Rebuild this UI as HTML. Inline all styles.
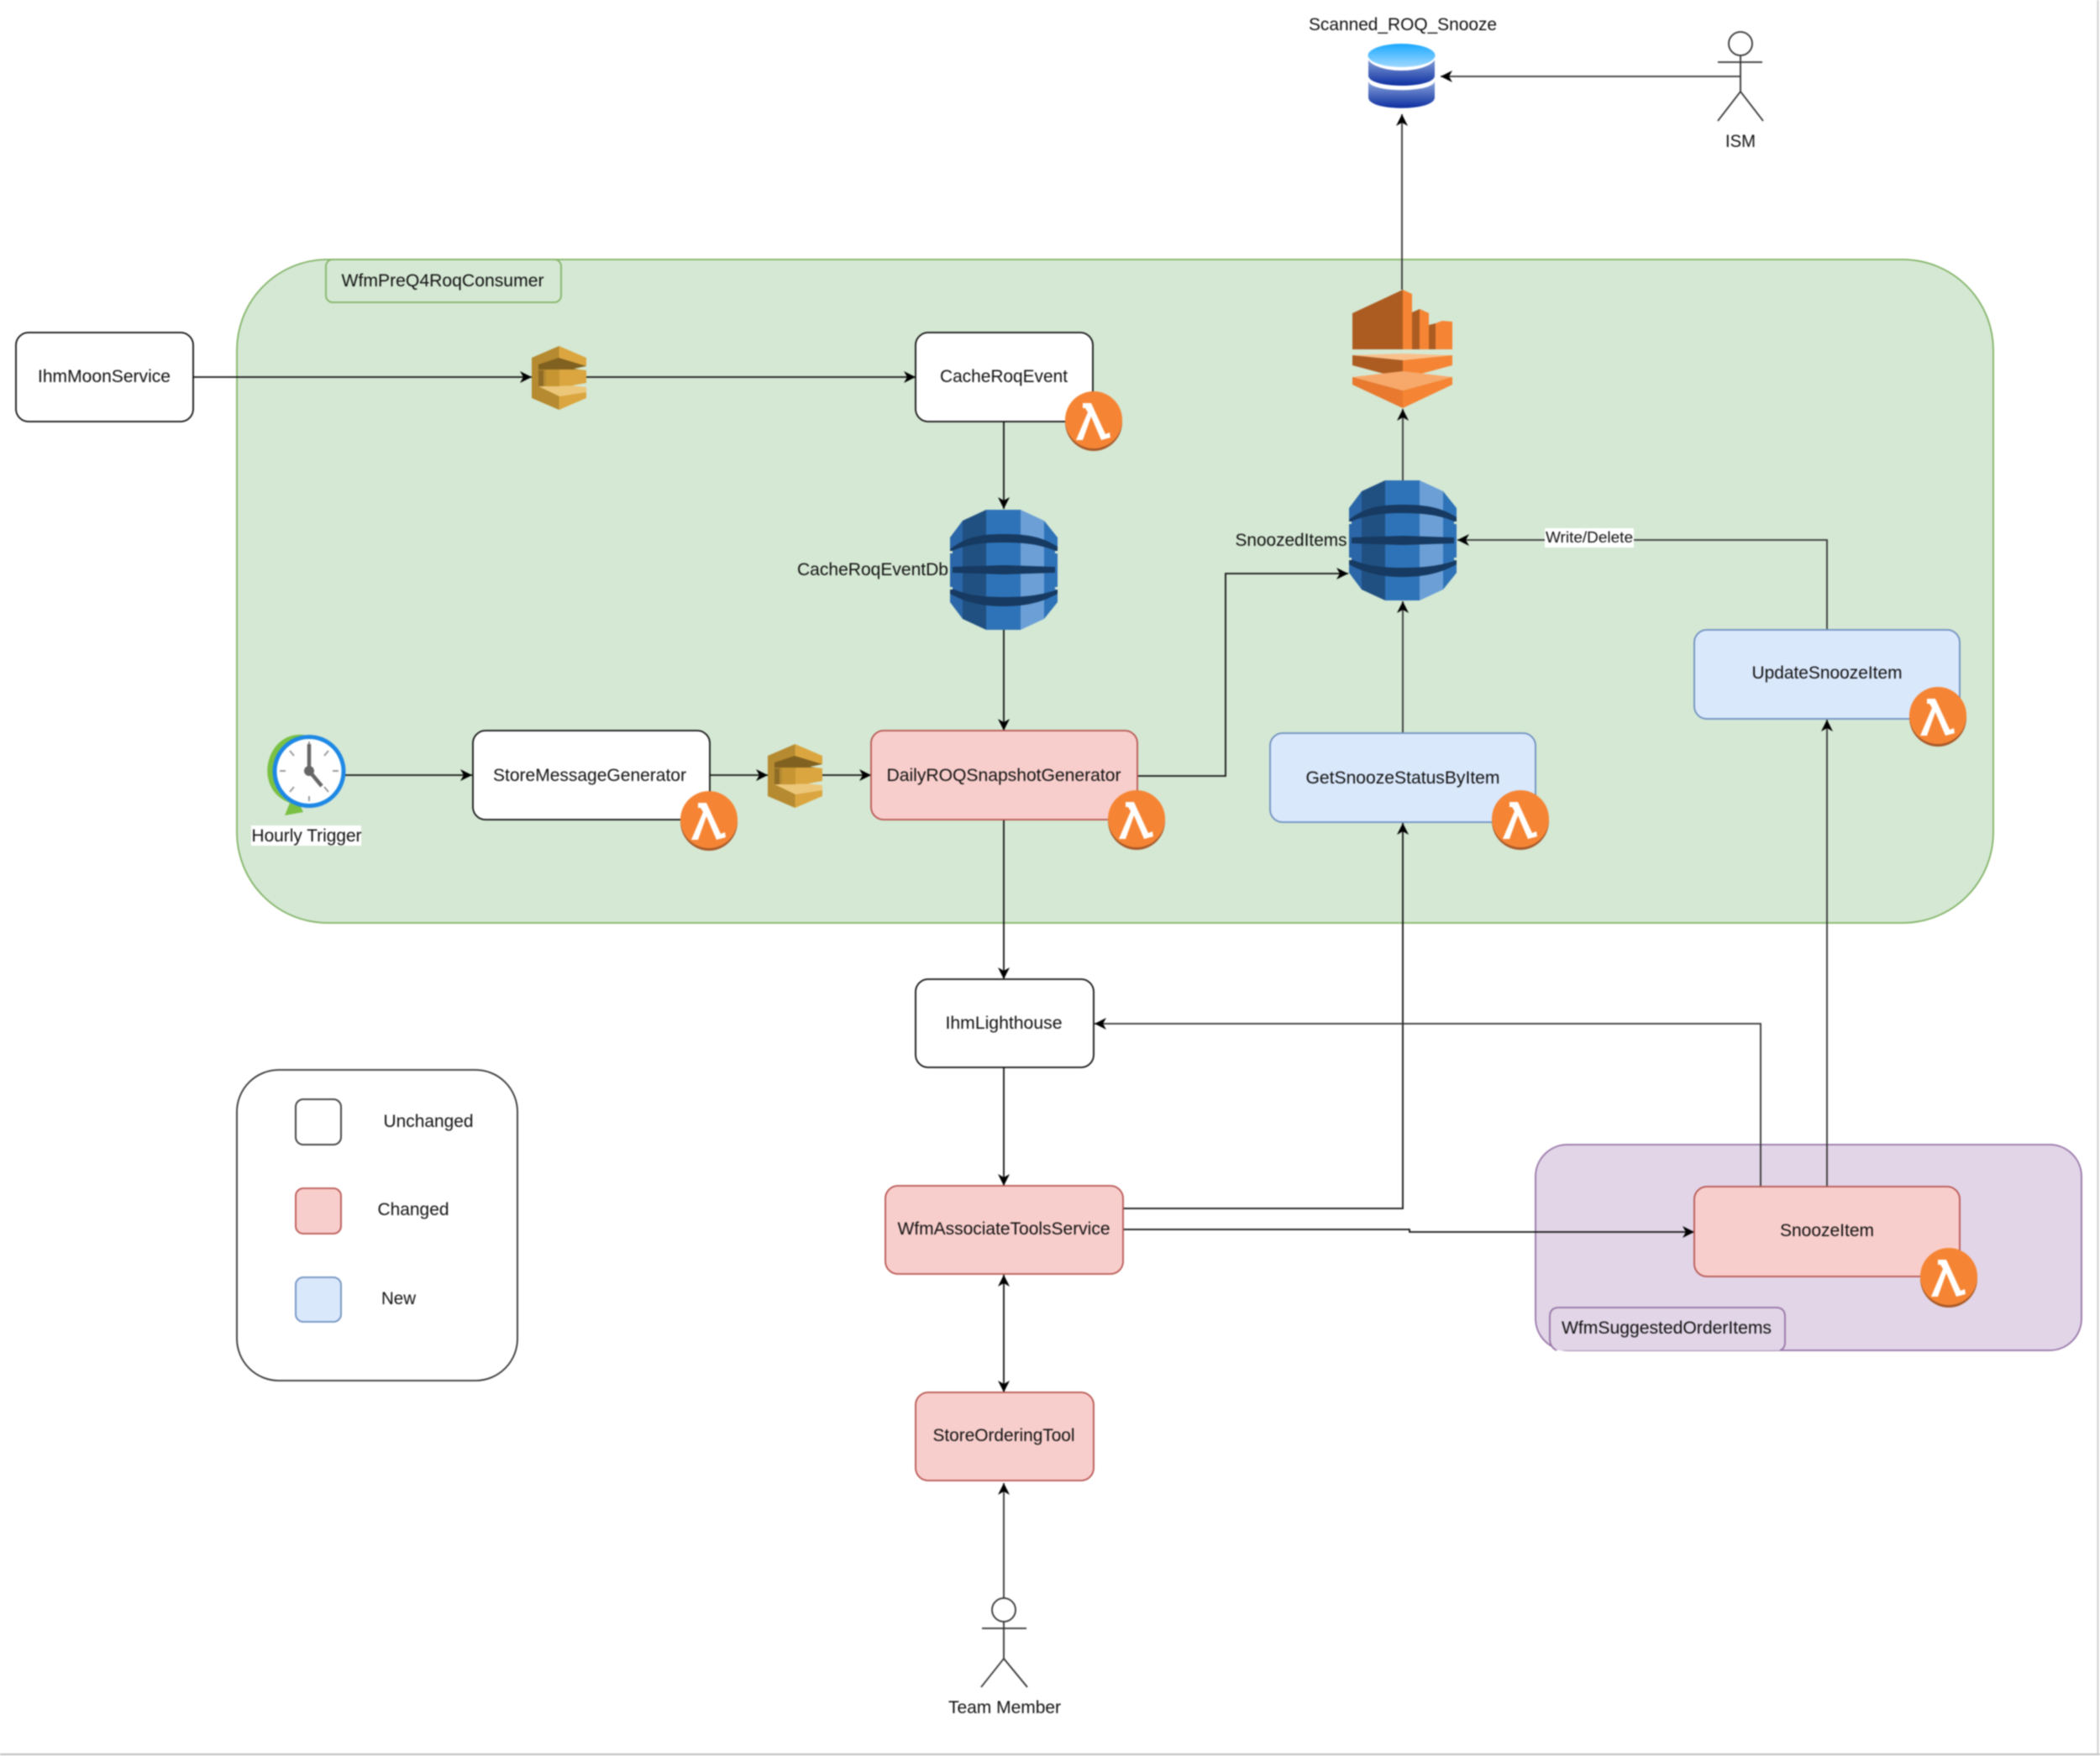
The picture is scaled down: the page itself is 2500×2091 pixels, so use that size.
<!DOCTYPE html>
<html>
<head>
<meta charset="utf-8">
<style>
html,body{margin:0;padding:0;background:#fff;width:2500px;height:2091px;overflow:hidden}
svg{display:block;filter:blur(0.7px)}
text{font-family:"Liberation Sans",Arial,sans-serif;font-size:21px;fill:#111;text-anchor:middle}
.l{fill:none;stroke:#111;stroke-width:1.800}
.a{fill:none;stroke:#333;stroke-width:1.800}
.w{fill:#fff;stroke:#111;stroke-width:1.800}
.r{fill:#f8cecc;stroke:#b85450;stroke-width:1.800}
.b{fill:#dae8fc;stroke:#6c8ebf;stroke-width:1.800}
</style>
</head>
<body>
<svg xmlns="http://www.w3.org/2000/svg" width="2500" height="2091" viewBox="0 0 2500 2091">
<defs>
  <marker id="ah" markerUnits="userSpaceOnUse" markerWidth="16" markerHeight="16" refX="14" refY="7" orient="auto-start-reverse">
    <path d="M14,7 L0,0 L4,7 L0,14 Z" fill="#000"/>
  </marker>
  <g id="lam">
    <ellipse cx="0" cy="1.500" rx="34" ry="34.500" fill="#a85a2a"/>
    <ellipse cx="0" cy="-1" rx="34" ry="34" fill="#f58534"/>
    <path d="M-13,-21 L-3,-21 L14,16 L19,14 L20,20 L9,23 L-3,-5 L-13,23 L-21,23 L-7,-10 L-10,-15 L-13,-15 Z" fill="#fff"/>
  </g>
  <g id="dyn">
    <polygon points="43,0 15,13 15,130 43,143" fill="#205081"/>
    <polygon points="15,13 0,33 0,110 15,130" fill="#2a66a8"/>
    <rect x="43" y="0" width="41" height="143" fill="#2e73b8"/>
    <polygon points="84,0 112,13 112,130 84,143" fill="#6b9fd6"/>
    <polygon points="112,13 128,33 128,110 112,130" fill="#2e73b8"/>
    <path d="M0,47 C20,31 40,29 64,29 C88,29 108,31 128,44 L128,50 C108,41 88,39 64,39 C40,39 20,41 0,50 Z" fill="#163a62"/>
    <polygon points="3,68 64,66 125,68 125,75 64,77 3,75" fill="#163a62"/>
    <path d="M0,93 C20,102 40,104 64,104 C88,104 108,102 128,95 L128,100 C108,111 88,115 64,115 C40,115 20,111 0,100 Z" fill="#163a62"/>
    <rect x="0" y="49" width="3" height="3" fill="#d5e8d4"/>
    <rect x="125" y="49" width="3" height="3" fill="#d5e8d4"/>
    <rect x="0" y="92" width="3" height="3" fill="#d5e8d4"/>
    <rect x="125" y="92" width="3" height="3" fill="#d5e8d4"/>
  </g>
  <g id="sqs">
    <polygon points="32.500,0 0,14 0,62 32.500,76" fill="#b58a30"/>
    <polygon points="32.500,0 65,14 65,62 32.500,76" fill="#dba63f"/>
    <polygon points="8,22 32,14 65,24 65,28 8,28" fill="#80611f"/>
    <polygon points="8,48 65,47 65,55 33,60" fill="#ecc77a"/>
    <rect x="8" y="29" width="6" height="19" fill="#8f6c25"/>
    <rect x="17" y="28" width="16" height="20" fill="#c79632"/>
    <polygon points="50,27 65,24 65,29" fill="#d5e8d4"/>
    <polygon points="48,47 65,44 65,49" fill="#d5e8d4"/>
  </g>
  <linearGradient id="dbb" x1="0" y1="0" x2="0" y2="1"><stop offset="0" stop-color="#8fa9dc"/><stop offset="1" stop-color="#0c2ea0"/></linearGradient>
  <linearGradient id="dbt" x1="0" y1="0" x2="0" y2="1"><stop offset="0" stop-color="#1aa8ff"/><stop offset="1" stop-color="#9fd8ff"/></linearGradient>
</defs>

<rect width="2500" height="2091" fill="#fff"/>
<line x1="0" y1="2089" x2="2500" y2="2089" stroke="#bdbdbd" stroke-width="2"/>
<line x1="2497.500" y1="0" x2="2497.500" y2="2089" stroke="#d0d0d0" stroke-width="2"/>

<!-- containers -->
<rect x="282" y="309" width="2091" height="790" rx="108" ry="108" fill="#d5e8d4" stroke="#82b366" stroke-width="1.800"/>
<rect x="388" y="309" width="280" height="51" rx="8" fill="#d5e8d4" stroke="#82b366" stroke-width="1.800"/>
<text x="527" y="341" textLength="241" lengthAdjust="spacingAndGlyphs">WfmPreQ4RoqConsumer</text>

<rect x="1828" y="1363" width="650" height="245" rx="38" fill="#e1d5e7" stroke="#9673a6" stroke-width="1.800"/>
<path d="M1853,1608 Q1845,1604 1845,1594 L1845,1568 Q1845,1557 1856,1557 L2114,1557 Q2125,1557 2125,1568 L2125,1598 Q2125,1606 2119,1608" fill="#e1d5e7" stroke="#9673a6" stroke-width="1.800"/>
<text x="1984" y="1588" textLength="250" lengthAdjust="spacingAndGlyphs">WfmSuggestedOrderItems</text>

<!-- legend -->
<rect x="282" y="1274" width="334" height="370" rx="50" fill="#fff" stroke="#333" stroke-width="1.800"/>
<rect x="352" y="1309" width="54" height="54" rx="9" fill="#fff" stroke="#333" stroke-width="1.800"/>
<rect x="352" y="1415" width="54" height="54" rx="9" class="r"/>
<rect x="352" y="1521" width="54" height="53" rx="9" class="b"/>
<text x="510" y="1342" textLength="107" lengthAdjust="spacingAndGlyphs">Unchanged</text>
<text x="492" y="1447" textLength="85" lengthAdjust="spacingAndGlyphs">Changed</text>
<text x="474.500" y="1553" textLength="41" lengthAdjust="spacingAndGlyphs">New</text>

<!-- connectors -->
<path class="l" d="M230,449 L633,449" marker-end="url(#ah)"/>
<path class="l" d="M698,449 L1090,449" marker-end="url(#ah)"/>
<path class="l" d="M1195,502 L1195,606" marker-end="url(#ah)"/>
<path class="l" d="M1195,750 L1195,870" marker-end="url(#ah)"/>
<path class="l" d="M411,923 L562,923" marker-end="url(#ah)"/>
<path class="l" d="M845,923 L914,923" marker-end="url(#ah)"/>
<path class="l" d="M979,923 L1037,923" marker-end="url(#ah)"/>
<path class="l" d="M1354,924 L1459,924 L1459,683 L1605,683" marker-end="url(#ah)"/>
<path class="a" d="M1670,872 L1670,716" marker-end="url(#ah)"/>
<path class="a" d="M1670,572 L1670,487" marker-end="url(#ah)"/>
<path class="a" d="M1669,345 L1669,136" marker-end="url(#ah)"/>
<path class="a" d="M2072,91 L1715,91" marker-end="url(#ah)"/>
<path class="a" d="M2175,749 L2175,643 L1735,643" marker-end="url(#ah)"/>
<path class="l" d="M1195,976 L1195,1166" marker-end="url(#ah)"/>
<path class="l" d="M1195,1271 L1195,1412" marker-end="url(#ah)"/>
<path class="l" d="M1195,1518 L1195,1658" marker-start="url(#ah)" marker-end="url(#ah)"/>
<path class="a" d="M1195,1903 L1195,1766" marker-end="url(#ah)"/>
<path class="l" d="M1337,1439 L1670,1439 L1670,980" marker-end="url(#ah)"/>
<path class="l" d="M1337,1464 L1678,1464 L1678,1467 L2017,1467" marker-end="url(#ah)"/>
<path class="a" d="M2096,1413 L2096,1219 L1303,1219" marker-end="url(#ah)"/>
<path class="a" d="M2175,1413 L2175,857" marker-end="url(#ah)"/>

<!-- Write/Delete label -->
<rect x="1839" y="629" width="106" height="23" fill="#fff"/>
<text x="1892" y="646" style="font-size:18.500px" textLength="104" lengthAdjust="spacingAndGlyphs">Write/Delete</text>

<!-- boxes -->
<rect x="19" y="396" width="211" height="106" rx="15" class="w"/>
<text x="124" y="455" textLength="158" lengthAdjust="spacingAndGlyphs">IhmMoonService</text>

<rect x="1090" y="396" width="211" height="106" rx="15" class="w"/>
<text x="1195" y="455" textLength="152" lengthAdjust="spacingAndGlyphs">CacheRoqEvent</text>
<use href="#lam" x="1302" y="501"/>

<rect x="563" y="870" width="282" height="106" rx="15" class="w"/>
<text x="702" y="930" textLength="230" lengthAdjust="spacingAndGlyphs">StoreMessageGenerator</text>
<use href="#lam" x="844" y="977"/>

<rect x="1037" y="870" width="317" height="106" rx="15" class="r"/>
<text x="1195" y="930" textLength="279" lengthAdjust="spacingAndGlyphs">DailyROQSnapshotGenerator</text>
<use href="#lam" x="1353" y="976"/>

<rect x="1512" y="873" width="316" height="106" rx="15" class="b"/>
<text x="1670" y="933" textLength="231" lengthAdjust="spacingAndGlyphs">GetSnoozeStatusByItem</text>
<use href="#lam" x="1810" y="976"/>

<rect x="2017" y="750" width="316" height="106" rx="15" class="b"/>
<text x="2175" y="808" textLength="179" lengthAdjust="spacingAndGlyphs">UpdateSnoozeItem</text>
<use href="#lam" x="2307" y="853"/>

<rect x="1090" y="1166" width="212" height="105" rx="15" class="w"/>
<text x="1195" y="1225" textLength="139" lengthAdjust="spacingAndGlyphs">IhmLighthouse</text>

<rect x="1054" y="1412" width="283" height="105" rx="15" class="r"/>
<text x="1195" y="1470" textLength="253" lengthAdjust="spacingAndGlyphs">WfmAssociateToolsService</text>

<rect x="2017" y="1413" width="316" height="107" rx="15" class="r"/>
<text x="2175" y="1472" textLength="112" lengthAdjust="spacingAndGlyphs">SnoozeItem</text>
<use href="#lam" x="2320" y="1521"/>

<rect x="1090" y="1658" width="212" height="105" rx="15" class="r"/>
<text x="1195" y="1716" textLength="169" lengthAdjust="spacingAndGlyphs">StoreOrderingTool</text>

<!-- SQS icons -->
<use href="#sqs" x="633" y="412"/>
<use href="#sqs" x="914" y="886"/>

<!-- DynamoDB -->
<use href="#dyn" x="1131" y="607"/>
<text x="1039" y="685" textLength="180" lengthAdjust="spacingAndGlyphs">CacheRoqEventDb</text>
<use href="#dyn" x="1606" y="572"/>
<text x="1537" y="650" textLength="133" lengthAdjust="spacingAndGlyphs">SnoozedItems</text>

<!-- Redshift -->
<polygon points="1610,373 1670,345 1670,416 1610,416" fill="#ad5c21"/>
<polygon points="1670,345 1681,350 1681,416 1670,416" fill="#f58534"/>
<polygon points="1681,372 1690,368 1701,373 1701,416 1681,416" fill="#ad5c21"/>
<polygon points="1690,368 1701,373 1701,416 1690,416" fill="#f58534"/>
<polygon points="1701,387 1709,385 1709,416 1701,416" fill="#ad5c21"/>
<polygon points="1709,385 1717,382 1717,416 1709,416" fill="#f58534"/>
<polygon points="1717,382 1729,383 1729,416 1717,416" fill="#f58534"/>
<polygon points="1610,423 1670,421 1729,423 1670,429" fill="#f9c08c"/>
<polygon points="1610,423 1670,429 1670,451 1610,435" fill="#ad5c21"/>
<polygon points="1729,423 1670,429 1670,451 1729,435" fill="#f58534"/>
<polygon points="1610,449 1670,442 1729,449 1670,465" fill="#f7a96b"/>
<polygon points="1610,449 1670,465 1670,486 1610,458" fill="#e8792f"/>
<polygon points="1729,449 1670,465 1670,486 1729,458" fill="#f58534"/>

<!-- Database -->
<path d="M1629,96 L1629,116 C1629,133 1708,133 1708,116 L1708,96 C1708,111 1629,111 1629,96 Z" fill="url(#dbb)"/>
<path d="M1629,68 L1629,90 C1629,106 1708,106 1708,90 L1708,68 Z" fill="url(#dbb)"/>
<ellipse cx="1668.500" cy="67" rx="41" ry="17" fill="#fff"/>
<ellipse cx="1668.500" cy="66" rx="40" ry="14" fill="url(#dbt)"/>
<text x="1670" y="36" textLength="224" lengthAdjust="spacingAndGlyphs">Scanned_ROQ_Snooze</text>

<!-- Actors -->
<g class="a">
  <ellipse cx="2072" cy="52" rx="14" ry="14" fill="#fff"/>
  <path d="M2072,66 L2072,109 M2045,74 L2098,74 M2072,109 L2045,144 M2072,109 L2099,144"/>
  <circle cx="1195" cy="1917" r="14" fill="#fff"/>
  <path d="M1195,1931 L1195,1975 M1169,1939 L1222,1939 M1195,1975 L1168,2009 M1195,1975 L1223,2009"/>
</g>
<text x="2072" y="175" textLength="36" lengthAdjust="spacingAndGlyphs">ISM</text>
<text x="1196" y="2040" textLength="134" lengthAdjust="spacingAndGlyphs">Team Member</text>

<!-- Clock -->
<path d="M362,875 C316,870 300,940 345,956 L339,971 L361,967 L352,948 C330,930 335,895 362,880 Z" fill="#7ac143"/>
<circle cx="368" cy="918.500" r="41" fill="#fff" stroke="#1e88e5" stroke-width="5"/>
<g stroke="#9a9a9a" stroke-width="2">
  <path d="M368,883 L368,889 M368,948 L368,954 M333,918 L340,918 M396,918 L403,918 M345,894 L350,900 M386,900 L391,894 M345,943 L350,937 M386,937 L391,943"/>
</g>
<path d="M368,886 L368,918 L383,936" fill="none" stroke="#666" stroke-width="4.500"/>
<circle cx="368" cy="918" r="6" fill="#666"/>
<rect x="299" y="983" width="131" height="24" fill="#fff"/>
<text x="365" y="1002" textLength="131" lengthAdjust="spacingAndGlyphs">Hourly Trigger</text>
</svg>
</body>
</html>
